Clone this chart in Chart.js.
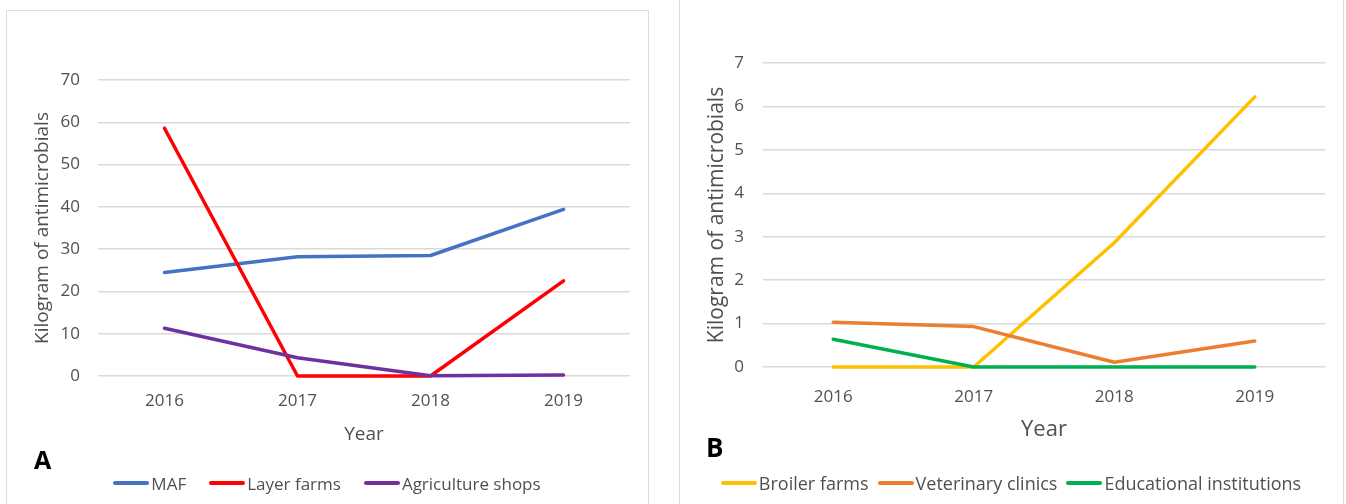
<!DOCTYPE html>
<html>
<head>
<meta charset="utf-8">
<title>Antimicrobial use by source, 2016–2019</title>
<script src="https://cdn.jsdelivr.net/npm/chart.js@4.4.1/dist/chart.umd.min.js"></script>
<style>
  html, body { margin: 0; padding: 0; background: #fff; overflow: hidden; }
  body { width: 1346px; height: 504px; position: relative; font-family: 'Open Sans', sans-serif; }
  .frame { position: absolute; border: 1px solid #dcdcdc; box-sizing: border-box; }
  .chart-box { position: absolute; }
  .panel-tag { position: absolute; font-weight: bold; color: #000; font-family: 'Open Sans', sans-serif; line-height: 1; }
  .legend { position: absolute; display: flex; justify-content: center; align-items: center; color: #505050; white-space: nowrap; }
  .legend .item { display: flex; align-items: center; }
  .legend .swatch { display: inline-block; width: 36px; height: 3.5px; border-radius: 2px; margin-right: 2px; }
</style>
</head>
<body>

<div class="frame" style="left:6px; top:10px; width:643px; height:520px;"></div>
<div class="frame" style="left:679px; top:-10px; width:665px; height:540px;"></div>

<div class="chart-box" style="left:7px; top:11px; width:640px; height:449px;"><canvas id="chart-a"></canvas></div>
<div class="chart-box" style="left:680px; top:0px; width:662px; height:455px;"><canvas id="chart-b"></canvas></div>

<div class="panel-tag" style="left:34px; top:447px; font-size:25px;">A</div>
<div class="panel-tag" style="left:706px; top:434px; font-size:26px;">B</div>

<div class="legend" id="legend-a" style="left:7px; top:473px; width:640px; height:20px; font-size:17px;"></div>
<div class="legend" id="legend-b" style="left:680px; top:473px; width:662px; height:20px; font-size:18px;"></div>

<script>
// Années
const years = ['2016', '2017', '2018', '2019'];

// Panneau A (kg)
const mafKg = [24.5, 28.2, 28.5, 39.4];
const layerFarmsKg = [58.6, 0, 0, 22.5];
const agricultureShopsKg = [11.3, 4.3, 0.05, 0.25];

// Panneau B (kg)
const broilerFarmsKg = [0, 0, 2.86, 6.22];
const veterinaryClinicsKg = [1.03, 0.93, 0.11, 0.6];
const educationalKg = [0.64, 0, 0, 0];

// Graduations de l'axe Y
const yTicksA = { max: 70, step: 10 };
const yTicksB = { max: 7, step: 1 };

const TEXT_COLOR = '#505050';
const GRID_COLOR = '#d9d9d9';

Chart.defaults.font.family = "'Open Sans', sans-serif";
Chart.defaults.color = TEXT_COLOR;
Chart.defaults.animation = false;

// Construire les séries (la dernière est dessinée au-dessus)
function buildDatasets(series) {
    return series.map((s, i) => ({
        label: s.label,
        data: s.data,
        borderColor: s.color,
        backgroundColor: s.color,
        borderWidth: 3.5,
        pointRadius: 0,
        tension: 0,
        borderCapStyle: 'round',
        borderJoinStyle: 'round',
        clip: false, // les valeurs à 0 restent entières sur la ligne de base
        order: series.length - i
    }));
}

function makeChart(canvasId, series, opts) {
    const ctx = document.getElementById(canvasId).getContext('2d');
    return new Chart(ctx, {
        type: 'line',
        data: {
            labels: years,
            datasets: buildDatasets(series)
        },
        options: {
            responsive: true,
            maintainAspectRatio: false,
            layout: {
                padding: { top: opts.top, right: opts.right, bottom: 0, left: 0 }
            },
            scales: {
                x: {
                    offset: true,
                    grid: { display: false, drawTicks: false },
                    border: { display: false },
                    ticks: { padding: opts.xTickPad, font: { size: opts.tickSize }, color: TEXT_COLOR },
                    title: {
                        display: true,
                        text: 'Year',
                        font: { size: opts.yearSize },
                        color: TEXT_COLOR,
                        padding: { top: 0, bottom: opts.yearPad }
                    },
                    afterFit: (scale) => { scale.height = opts.xHeight; }
                },
                y: {
                    min: 0,
                    max: opts.yTicks.max,
                    grid: { color: GRID_COLOR, lineWidth: 1.5, drawTicks: false },
                    border: { display: false },
                    ticks: { stepSize: opts.yTicks.step, padding: opts.yTickPad, font: { size: opts.tickSize }, color: TEXT_COLOR },
                    title: {
                        display: true,
                        text: 'Kilogram of antimicrobials',
                        font: { size: opts.yTitleSize },
                        color: TEXT_COLOR,
                        padding: { top: opts.yTitlePad, bottom: 0 }
                    },
                    afterFit: (scale) => { scale.width = opts.yWidth; }
                }
            },
            plugins: {
                legend: { display: false },
                tooltip: { enabled: false }
            }
        }
    });
}

// Légende HTML sous chaque graphique
function buildLegend(containerId, series, gap) {
    const box = document.getElementById(containerId);
    series.forEach((s, i) => {
        const item = document.createElement('span');
        item.className = 'item';
        if (i > 0) item.style.marginLeft = gap + 'px';
        const swatch = document.createElement('span');
        swatch.className = 'swatch';
        swatch.style.background = s.color;
        const text = document.createElement('span');
        text.textContent = s.label;
        item.appendChild(swatch);
        item.appendChild(text);
        box.appendChild(item);
    });
}

const seriesA = [
    { label: 'MAF', data: mafKg, color: '#4472C4' },
    { label: 'Layer farms', data: layerFarmsKg, color: '#FF0000' },
    { label: 'Agriculture shops', data: agricultureShopsKg, color: '#7030A0' }
];

const seriesB = [
    { label: 'Broiler farms', data: broilerFarmsKg, color: '#FFC000' },
    { label: 'Veterinary clinics', data: veterinaryClinicsKg, color: '#ED7D31' },
    { label: 'Educational institutions', data: educationalKg, color: '#00B050' }
];

makeChart('chart-a', seriesA, {
    top: 69, right: 17, yTicks: yTicksA,
    tickSize: 17, yearSize: 19, yTitleSize: 19,
    xTickPad: 15, yTickPad: 18, yearPad: 14, yTitlePad: 24,
    xHeight: 84, yWidth: 91
});

makeChart('chart-b', seriesB, {
    top: 63, right: 17, yTicks: yTicksB,
    tickSize: 17, yearSize: 22, yTitleSize: 21,
    xTickPad: 20, yTickPad: 19, yearPad: 12, yTitlePad: 24,
    xHeight: 88, yWidth: 83
});

buildLegend('legend-a', seriesA, 23);
buildLegend('legend-b', seriesB, 9);
</script>
</body>
</html>
